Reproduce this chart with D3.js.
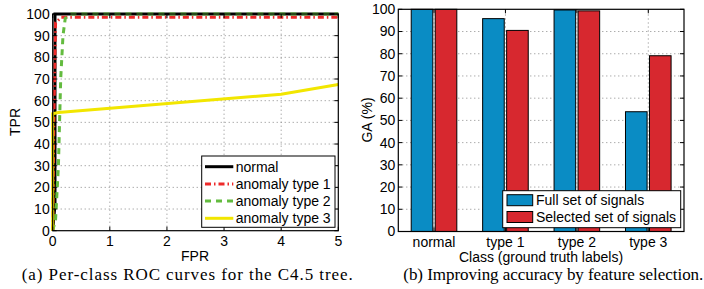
<!DOCTYPE html>
<html>
<head>
<meta charset="utf-8">
<script src="https://cdn.jsdelivr.net/npm/d3@7"></script>
<style>
  body { margin: 0; background: #fff; }
  text { font-family: "Liberation Sans", Arial, sans-serif; font-size: 14px; fill: #000; }
  .cap { font-family: "Liberation Serif", "Times New Roman", serif; font-size: 17px; }
</style>
</head>
<body>
<script>
// ROC curves, one pair of arrays per class (FPR %, TPR %)
var rocNames = ["normal", "anomaly type 1", "anomaly type 2", "anomaly type 3"];
var normalFpr = [0, 0.04, 0.04, 5],
    normalTpr = [0, 12, 100, 100];
var type1Fpr = [0, 0.02, 0.05, 0.15, 5],
    type1Tpr = [0, 50, 96, 98.5, 98.5];
var type2Fpr = [0, 0.05, 0.1, 0.14, 0.18, 0.22, 0.3, 5],
    type2Tpr = [0, 5, 30, 70, 90, 98, 100, 100];
var type3Fpr = [0, 0, 0.1, 4, 5],
    type3Tpr = [0, 54, 54.5, 63, 67.5];

// GA per class
var classes = ["normal", "type 1", "type 2", "type 3"];
var seriesNames = ["Full set of signals", "Selected set of signals"];
var fullSet = [100, 95.8, 99.7, 53.9];
var selectedSet = [100, 90.5, 99.3, 79.1];

var xTicksA = [0, 1, 2, 3, 4, 5];
var yTicks = [0, 10, 20, 30, 40, 50, 60, 70, 80, 90, 100];

var svg = d3.select("body").append("svg")
    .attr("width", 704)
    .attr("height", 289);

// dotted grid
function frame(g, x, y, yt, xGrid){
  var x0 = x.range()[0], x1 = x.range()[1],
      y0 = y.range()[0], y1 = y.range()[1];

  g.selectAll(".hg").data(yt.slice(1, -1)).enter().append("line")
      .attr("x1", x0).attr("x2", x1)
      .attr("y1", function(d){ return y(d); })
      .attr("y2", function(d){ return y(d); })
      .attr("stroke", "#888").attr("stroke-width", 1)
      .attr("stroke-dasharray", "1,3");
  g.selectAll(".vg").data(xGrid).enter().append("line")
      .attr("y1", y0).attr("y2", y1)
      .attr("x1", function(d){ return d; })
      .attr("x2", function(d){ return d; })
      .attr("stroke", "#888").attr("stroke-width", 1)
      .attr("stroke-dasharray", "1,3");
}

// inward ticks on all four sides, y labels and the box
function box(g, x, y, xPos, yt){
  var x0 = x.range()[0], x1 = x.range()[1],
      y0 = y.range()[0], y1 = y.range()[1], tl = 4;
  yt.forEach(function(d){
    g.append("line").attr("x1", x0).attr("x2", x0 + tl)
        .attr("y1", y(d)).attr("y2", y(d)).attr("stroke", "#000");
    g.append("line").attr("x1", x1).attr("x2", x1 - tl)
        .attr("y1", y(d)).attr("y2", y(d)).attr("stroke", "#000");
    g.append("text").attr("x", x0 - 3).attr("y", y(d)).attr("dy", "0.35em")
        .attr("text-anchor", "end").text(d);
  });
  xPos.forEach(function(p){
    g.append("line").attr("x1", p).attr("x2", p)
        .attr("y1", y0).attr("y2", y0 - tl).attr("stroke", "#000");
    g.append("line").attr("x1", p).attr("x2", p)
        .attr("y1", y1).attr("y2", y1 + tl).attr("stroke", "#000");
  });
  g.append("rect")
      .attr("x", x0).attr("y", y1)
      .attr("width", x1 - x0).attr("height", y0 - y1)
      .attr("fill", "none").attr("stroke", "#000").attr("stroke-width", 1.2);
}

// ---- (a) ROC curves
var xa = d3.scaleLinear().domain([0, 5]).range([52.7, 338.3]),
    ya = d3.scaleLinear().domain([0, 100]).range([230.7, 14]);
var ga = svg.append("g");

frame(ga, xa, ya, yTicks, xTicksA.slice(1, -1).map(xa));

var rocData = [
  {fpr: normalFpr, tpr: normalTpr, color: "#000", dash: null},
  {fpr: type1Fpr, tpr: type1Tpr, color: "#ee2a2a", dash: "6,3,1.5,3"},
  {fpr: type2Fpr, tpr: type2Tpr, color: "#63bb3f", dash: "6,5"},
  {fpr: type3Fpr, tpr: type3Tpr, color: "#f2e600", dash: null}
];

var line = d3.line()
    .x(function(d){ return xa(d[0]); })
    .y(function(d){ return ya(d[1]); });

rocData.forEach(function(c){
  ga.append("path")
      .attr("d", line(d3.zip(c.fpr, c.tpr)))
      .attr("fill", "none")
      .attr("stroke", c.color)
      .attr("stroke-width", 3)
      .attr("stroke-dasharray", c.dash);
});

box(ga, xa, ya, xTicksA.map(xa), yTicks);

xTicksA.forEach(function(d){
  ga.append("text").attr("x", xa(d)).attr("y", 246.3)
      .attr("text-anchor", "middle").text(d);
});
ga.append("text").attr("x", 195).attr("y", 261)
    .attr("text-anchor", "middle").text("FPR");
ga.append("text").attr("transform", "translate(20,122) rotate(-90)")
    .attr("text-anchor", "middle").text("TPR");

// legend (a)
var lgA = ga.append("g");
lgA.append("rect").attr("x", 201.7).attr("y", 156)
    .attr("width", 133.3).attr("height", 71.3)
    .attr("fill", "#fff").attr("stroke", "#000");
rocData.forEach(function(c, i){
  var ly = 166.7 + i * 17.2;
  lgA.append("line").attr("x1", 205).attr("x2", 233.3)
      .attr("y1", ly).attr("y2", ly)
      .attr("stroke", c.color).attr("stroke-width", 3)
      .attr("stroke-dasharray", c.dash);
  lgA.append("text").attr("x", 235.7).attr("y", ly).attr("dy", "0.35em")
      .text(rocNames[i]);
});

svg.append("text").attr("class", "cap").attr("x", 21.7).attr("y", 279.5)
    .attr("textLength", 331).attr("lengthAdjust", "spacing")
    .text("(a) Per-class ROC curves for the C4.5 tree.");

// ---- (b) GA bars
var x0b = d3.scaleBand().domain(classes).range([398.3, 684]),
    x1b = d3.scaleBand().domain([0, 1])
      .range([-22.8, 22.8]).paddingInner(0.1),
    yb = d3.scaleLinear().domain([0, 100]).range([231.5, 9.3]);
var gb = svg.append("g");

var centers = classes.map(function(c){ return x0b(c) + x0b.bandwidth() / 2; });
frame(gb, x0b, yb, yTicks, centers);

var barColors = ["#0a8cc4", "#d7282f"];
var barSets = [fullSet, selectedSet];

barSets.forEach(function(vals, s){
  gb.selectAll(".b" + s).data(vals).enter().append("rect")
      .attr("x", function(d, i){ return centers[i] + x1b(s); })
      .attr("y", function(d){ return yb(d); })
      .attr("width", x1b.bandwidth())
      .attr("height", function(d){ return yb(0) - yb(d); })
      .attr("fill", barColors[s])
      .attr("stroke", "#000").attr("stroke-width", 1);
});

box(gb, x0b, yb, centers, yTicks);

classes.forEach(function(c, i){
  gb.append("text").attr("x", centers[i]).attr("y", 246.5)
      .attr("text-anchor", "middle").text(c);
});
gb.append("text").attr("x", 541).attr("y", 261.5)
    .attr("text-anchor", "middle").text("Class (ground truth labels)");
gb.append("text").attr("transform", "translate(372,120) rotate(-90)")
    .attr("text-anchor", "middle").text("GA (%)");

// legend (b)
var lgB = gb.append("g");
lgB.append("rect").attr("x", 502.7).attr("y", 190.7)
    .attr("width", 178).attr("height", 37)
    .attr("fill", "#fff").attr("stroke", "#000");
seriesNames.forEach(function(n, i){
  var ly = 200.2 + i * 16.8;
  lgB.append("rect").attr("x", 507).attr("y", ly - 5.5)
      .attr("width", 25.7).attr("height", 11)
      .attr("fill", barColors[i]).attr("stroke", "#000");
  lgB.append("text").attr("x", 536).attr("y", ly).attr("dy", "0.35em").text(n);
});

svg.append("text").attr("class", "cap").attr("x", 403.3).attr("y", 279.5)
    .attr("textLength", 300).attr("lengthAdjust", "spacing")
    .text("(b) Improving accuracy by feature selection.");
</script>
</body>
</html>
